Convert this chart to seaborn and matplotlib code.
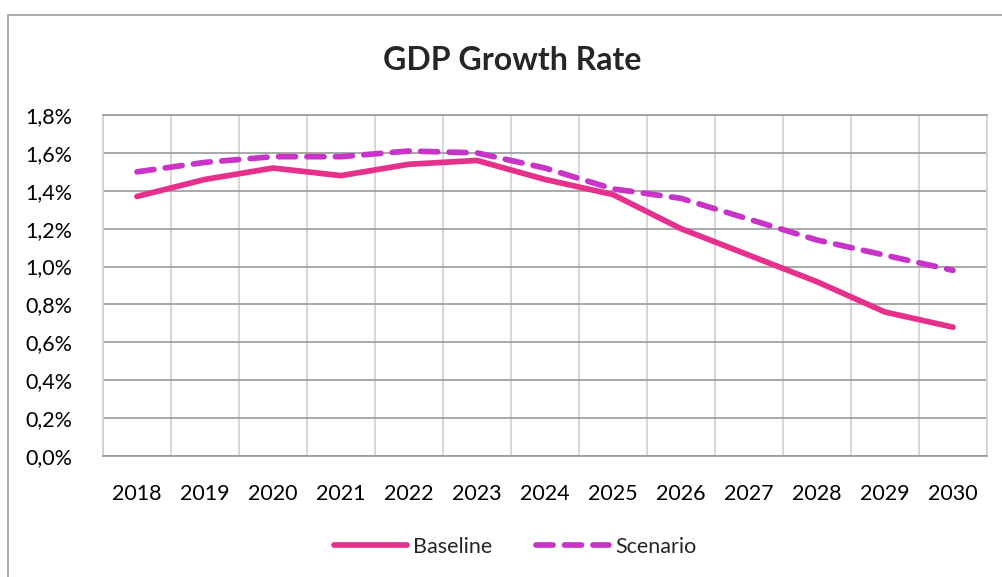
import numpy as np
import pandas as pd
import matplotlib
matplotlib.use('Agg')
import matplotlib.pyplot as plt
import seaborn as sns
from matplotlib.ticker import FuncFormatter, MultipleLocator
from matplotlib.patches import Rectangle

years = list(range(2018, 2031))
baseline = [1.37, 1.46, 1.52, 1.48, 1.54, 1.56, 1.46, 1.38, 1.20, 1.06, 0.92, 0.76, 0.68]
scenario = [1.50, 1.55, 1.58, 1.58, 1.61, 1.60, 1.52, 1.41, 1.36, 1.25, 1.14, 1.06, 0.98]
colors = {'Baseline': '#E5308C', 'Scenario': '#C833C8'}

df = pd.DataFrame({
    'year': years * 2,
    'value': baseline + scenario,
    'series': ['Baseline'] * len(years) + ['Scenario'] * len(years),
})

sns.set_style('white')
plt.rcParams['font.family'] = ['Lato', 'DejaVu Sans']

fig = plt.figure(figsize=(10.03, 5.77), dpi=100)
# outer chart frame (Excel style)
fig.patches.append(Rectangle((8 / 1003, -0.05), 1.1, 1 - 15 / 577 + 0.05,
                             transform=fig.transFigure, fill=False,
                             edgecolor='#A0A0A0', linewidth=1.2))

ax = fig.add_axes([103 / 1003, 1 - 456 / 577, 884 / 1003, 341 / 577])

sns.lineplot(data=df, x='year', y='value', hue='series', style='series',
             palette=colors, dashes={'Baseline': '', 'Scenario': (3, 2)},
             linewidth=4.1, ax=ax)
for line in ax.lines:
    line.set_solid_capstyle('round')
    line.set_dash_capstyle('round')
    line.set_solid_joinstyle('round')

ax.set_xlim(2017.5, 2030.5)
ax.set_ylim(0, 1.8)
ax.set_xticks(years)
ax.xaxis.set_minor_locator(MultipleLocator(0.5))
ax.yaxis.set_major_locator(MultipleLocator(0.2))
ax.yaxis.set_major_formatter(FuncFormatter(lambda v, _: f'{v:.1f}%'.replace('.', ',')))

ax.grid(True, which='minor', axis='x', color='#D0D0D0', linewidth=1.2)
ax.grid(True, which='major', axis='y', color='#9A9A9A', linewidth=1.2)
ax.set_axisbelow(True)
for side, sp in ax.spines.items():
    sp.set_visible(True)
    sp.set_linewidth(1.2)
    sp.set_color('#D0D0D0' if side in ('left', 'right') else '#9A9A9A')

ax.tick_params(axis='both', which='both', length=0, labelsize=15.5, colors='black')
ax.tick_params(axis='y', pad=22)
ax.tick_params(axis='x', pad=20)
ax.set_xlabel('')
ax.set_ylabel('')

fig.text(0.511, 1 - 60 / 577, 'GDP Growth Rate', ha='center', va='center',
         fontsize=23, fontweight='bold')

# legend centred under the plot, like Excel's bottom legend
sns.move_legend(ax, 'center', bbox_to_anchor=((515 - 103) / 884, (456 - 547) / 341),
                ncol=2, title=None, frameon=False, fontsize=15.5,
                handlelength=3.4, columnspacing=2.0, handletextpad=0.3)
leg = ax.get_legend()
for h in leg.get_lines():
    h.set_linewidth(4.1)
    h.set_solid_capstyle('round')
    h.set_dash_capstyle('round')

fig.savefig('out.png', dpi=100)
